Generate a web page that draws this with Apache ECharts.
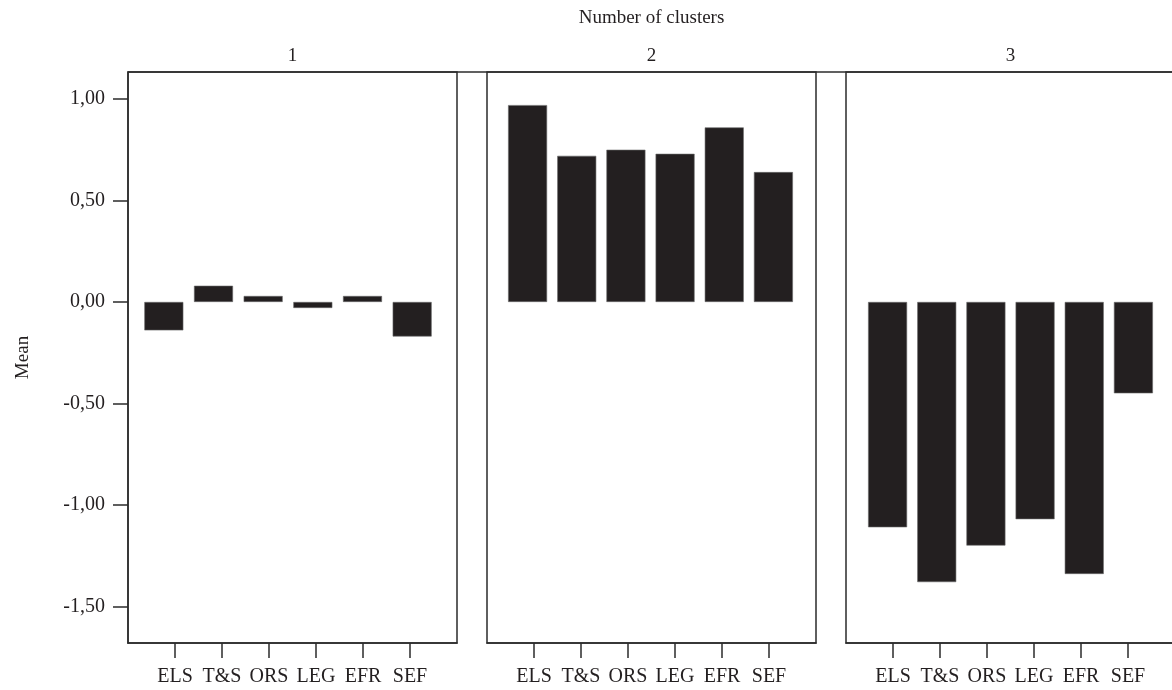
<!DOCTYPE html>
<html>
<head>
<meta charset="utf-8">
<script src="https://cdn.jsdelivr.net/npm/echarts@6/dist/echarts.min.js"></script>
<style>html,body{margin:0;padding:0;background:#fff;}#main{width:1172px;height:690px;}</style>
</head>
<body>
<div id="main"></div>
<script>
// ---- data ----
const categories = ['ELS', 'T&S', 'ORS', 'LEG', 'EFR', 'SEF'];
const clusterNames = ['1', '2', '3'];
const cluster1Means = [-0.14, 0.08, 0.01, -0.01, 0.01, -0.17];
const cluster2Means = [0.97, 0.72, 0.75, 0.73, 0.86, 0.64];
const cluster3Means = [-1.11, -1.38, -1.20, -1.07, -1.34, -0.45];
const yTickValues = [-1.5, -1.0, -0.5, 0.0, 0.5, 1.0];
const chartTitle = 'Number of clusters';
const yTitle = 'Mean';

// ---- layout / style ----
const FONT = 'Liberation Serif';
const INK = '#231f20';
const LINE = '#2b2b2b';
const Y_MIN = -1.68, Y_MAX = 1.133;
const TOP = 72, BOTTOM_Y = 643;
const PANEL_W = 329;
const panelLefts = [128, 487, 846];
const barGrids = [{ left: 139, width: 298 }, { left: 503, width: 295 }, { left: 863, width: 295 }];
const allMeans = [cluster1Means, cluster2Means, cluster3Means];

const chart = echarts.init(document.getElementById('main'), null, { renderer: 'canvas' });

const grid = [], xAxis = [], yAxis = [], series = [];
panelLefts.forEach((l, i) => {
  grid.push({ left: l, top: TOP, width: PANEL_W, height: BOTTOM_Y - TOP, show: true, borderColor: LINE, borderWidth: 1.5,
    backgroundColor: 'transparent', containLabel: false, outerBoundsMode: 'none' });
});
barGrids.forEach((g) => {
  grid.push({ left: g.left, top: TOP, width: g.width, height: BOTTOM_Y - TOP, show: false, containLabel: false, outerBoundsMode: 'none' });
});

// frame axes
panelLefts.forEach((l, i) => {
  xAxis.push({
    gridIndex: i, type: 'category', boundaryGap: false,
    data: [''].concat(categories, ['']),
    axisLine: { show: true, onZero: false, lineStyle: { color: LINE, width: 1.5 } },
    axisTick: { show: true, length: 15, interval: (idx) => idx > 0 && idx < categories.length + 1, lineStyle: { color: LINE, width: 1.5 } },
    axisLabel: { interval: 0, margin: 24, fontFamily: FONT, fontSize: 20, color: INK },
    splitLine: { show: false }
  });
  yAxis.push({
    gridIndex: i, type: 'value', min: Y_MIN, max: Y_MAX,
    name: i === 0 ? yTitle : '', nameLocation: 'middle', nameGap: 95, nameRotate: 90,
    nameTextStyle: { fontFamily: FONT, fontSize: 19, color: INK },
    axisLine: { show: i === 0, onZero: false, lineStyle: { color: LINE, width: 1.5 } },
    axisTick: { show: i === 0, length: 15, customValues: yTickValues, lineStyle: { color: LINE, width: 1.5 } },
    axisLabel: { show: i === 0, customValues: yTickValues, margin: 23, fontFamily: FONT, fontSize: 20, color: INK,
      formatter: (v) => v.toFixed(2).replace('.', ',') },
    splitLine: { show: false }
  });
});
// bar axes
barGrids.forEach((g, i) => {
  xAxis.push({ gridIndex: 3 + i, type: 'category', data: categories, show: false, axisLine: { onZero: false } });
  yAxis.push({ gridIndex: 3 + i, type: 'value', min: Y_MIN, max: Y_MAX, show: false, splitLine: { show: false } });
  series.push({
    type: 'bar', name: clusterNames[i], xAxisIndex: 3 + i, yAxisIndex: 3 + i,
    data: allMeans[i], barWidth: 39, barMinHeight: 6,
    itemStyle: { color: INK, borderColor: '#6a6a6a', borderWidth: 0.6 },
    silent: true
  });
});

const graphic = [
  { type: 'line', shape: { x1: panelLefts[0], y1: TOP, x2: 1172, y2: TOP }, style: { stroke: LINE, lineWidth: 1.5 }, z: 10 },
  { type: 'text', x: (panelLefts[0] + panelLefts[2] + PANEL_W) / 2, y: 18, style: { text: chartTitle, font: '19px ' + FONT, fill: INK, textAlign: 'center', textVerticalAlign: 'middle' } }
];
clusterNames.forEach((n, i) => {
  graphic.push({ type: 'text', x: panelLefts[i] + PANEL_W / 2, y: 56, style: { text: n, font: '19px ' + FONT, fill: INK, textAlign: 'center', textVerticalAlign: 'middle' } });
});

chart.setOption({
  animation: false,
  backgroundColor: '#fff',
  grid, xAxis, yAxis, series, graphic
});
</script>
</body>
</html>
